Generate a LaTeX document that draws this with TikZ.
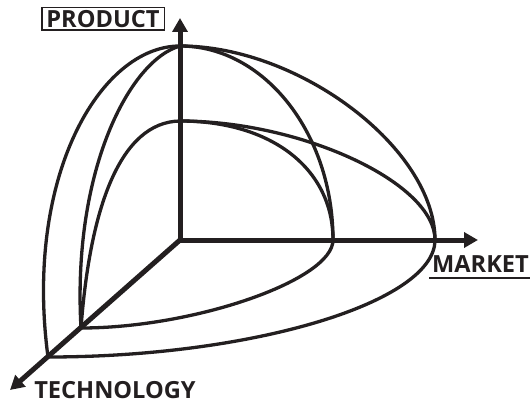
\documentclass[tikz,border=0pt]{standalone}
\usepackage{fontspec}
\newfontfamily\labfont{Open Sans}
\usetikzlibrary{arrows.meta}
\definecolor{ink}{RGB}{35,31,32}
\tikzset{
  axis/.style={draw=ink, line width=5pt, line join=miter},
  tipa/.tip={Triangle[length=14pt,width=15pt]},
  shell/.style={draw=ink, line width=3.3pt},
  lab/.style={font=\labfont\bfseries\fontsize{23.6}{23.6}\selectfont, text=ink, text height=16.8pt, text depth=0pt, inner sep=0pt}
}
\begin{document}
\begin{tikzpicture}[x=1pt,y=-1pt]
\useasboundingbox (0,0) rectangle (530,404);
% key points
\coordinate (O) at (180,240);
\coordinate (Ptip) at (180,18);
\coordinate (Mtip) at (478,240);
\coordinate (Ttip) at (10,390);
\coordinate (P1) at (180,46);
\coordinate (P2) at (180,121);
\coordinate (M1) at (435,240);
\coordinate (M2) at (333,240);
\coordinate (T1) at (48,357);
\coordinate (T2) at (81,328);
% shells
\draw[shell] (P1) .. controls (300,46) and (435,149) .. (M1);
\draw[shell] (P1) .. controls (264,46) and (333,133) .. (M2);
\draw[shell] (P2) .. controls (302,121) and (435,183) .. (M1);
\draw[shell] (P2) .. controls (272,121) and (333,169) .. (M2);
\draw[shell] (P1) .. controls (100,46) and (24,177) .. (T1);
\draw[shell] (P1) .. controls (130,60) and (72,170) .. (T2);
\draw[shell] (P2) .. controls (120,122) and (90,208) .. (T2);
\draw[shell] (M1) .. controls (435,302) and (253,357) .. (T1);
\draw[shell] (M2) .. controls (333,280) and (194,328) .. (T2);
% axes
\draw[axis, {tipa}-{tipa}] (Ptip) -- (O) -- (Mtip);
\draw[axis, -{tipa}] (O) -- (Ttip);
% labels
\node[lab, draw=ink, line width=1.5pt, minimum width=122.5pt, minimum height=22.5pt] (prod) at (103,19) {PRODUCT};
\node[lab, anchor=base, inner xsep=2.5pt] (mkt) at (480.5,272) {MARKET};
\draw[ink, line width=2.2pt] ([yshift=-6pt]mkt.base west) -- ([yshift=-6pt]mkt.base east);
\node[lab, anchor=base] (tech) at (115,398) {TECHNOLOGY};
\end{tikzpicture}
\end{document}
